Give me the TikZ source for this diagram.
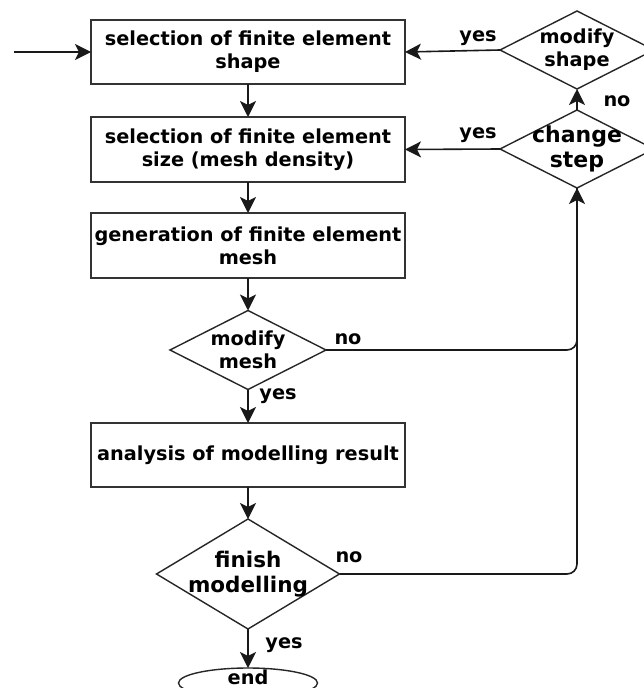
\documentclass[tikz,border=0pt]{standalone}
\usepackage{fontspec}
\setmainfont{DejaVu Sans}
\usetikzlibrary{shapes.geometric,arrows.meta}
\tikzset{
  base/.style={font=\bfseries\fontsize{19.3}{23}\selectfont, text=black},
  procbox/.style={draw=black!80, line width=1.6pt, rectangle, minimum width=314, minimum height=64, inner sep=0pt, outer sep=0pt},
  decision/.style={draw=black!85, line width=1.4pt, diamond, inner sep=0pt, outer sep=0pt},
  terminal/.style={draw=black!85, line width=1.4pt, ellipse, minimum width=139, minimum height=30, inner sep=0pt, outer sep=0pt},
  txt/.style={base, align=center, inner sep=0pt},
  lbl/.style={base, inner sep=0pt},
  conn/.style={draw=black!90, line width=1.6pt},
  arr/.style={conn, -{Stealth[length=16pt,width=16pt,inset=4pt]}},
}
\begin{document}
\begin{tikzpicture}[x=1pt,y=-1pt]
\clip (0,0) rectangle (644,688);
\fill[white] (0,0) rectangle (644,688);
% process boxes
\node[procbox] (b1) at (248,52) {};
\node[txt] (t1) at (b1) {selection of finite element\\shape};
\node[procbox, minimum height=65] (b2) at (248,149.5) {};
\node[txt] (t2) at (b2) {selection of finite element\\size (mesh density)};
\node[procbox, minimum height=65] (b3) at (248,245.5) {};
\node[txt] (t3) at (b3) {generation of finite element\\mesh};
\node[decision, minimum width=156, minimum height=79] (d1) at (248,350) {};
\node[txt] (t4) at (d1) {modify\\mesh};
\node[procbox] (b4) at (248,455) {};
\node[txt] (t5) at (b4) {analysis of modelling result};
\node[decision, minimum width=183, minimum height=110] (d2) at (248,574) {};
\node[txt, font=\bfseries\fontsize{21.5}{25}\selectfont] (t6) at (d2) {finish\\modelling};
\node[terminal] (e) at (248,683) {};
\node[txt] (t7) at (248,677) {end};
% right decisions
\node[decision, minimum width=154, minimum height=78] (ms) at (577,50) {};
\node[txt] (t8) at (ms) {modify\\shape};
\node[decision, minimum width=154, minimum height=78] (cs) at (577,149) {};
\node[txt, font=\bfseries\fontsize{22}{25}\selectfont] (t9) at (cs) {change\\step};
% connectors
\coordinate (start) at (14,52);
\draw[arr] (start) -- (b1.west);
\draw[arr] (b1.south) -- (b2.north);
\draw[arr] (b2.south) -- (b3.north);
\draw[arr] (b3.south) -- (d1.north);
\draw[arr] (d1.south) -- (b4.north);
\draw[arr] (b4.south) -- (d2.north);
\draw[arr] (d2.south) -- (e.north);
\draw[arr] (ms.west) -- (b1.east);
\draw[arr] (cs.west) -- (b2.east);
\draw[arr] (cs.north) -- (ms.south);
\draw[conn, rounded corners=10pt] (d2.east) -| (cs.south);
\draw[arr, rounded corners=10pt] (d1.east) -| (cs.south);
% labels
\node[lbl] (l1) at (478,38) {yes};
\node[lbl] (l2) at (478,135) {yes};
\node[lbl] (l3) at (617,101) {no};
\node[lbl] (l4) at (348,339) {no};
\node[lbl] (l5) at (278,396) {yes};
\node[lbl] (l6) at (349,557) {no};
\node[lbl] (l7) at (284,645) {yes};
\end{tikzpicture}
\end{document}
